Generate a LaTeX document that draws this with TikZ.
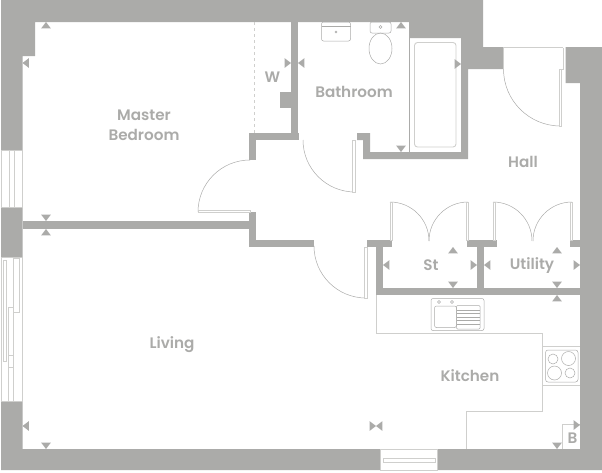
\documentclass[tikz,border=0pt]{standalone}
\usepackage{fontspec}
\setmainfont{Poppins SemiBold}
\definecolor{wallgrey}{HTML}{ABABA9}
\definecolor{palegrey}{HTML}{CFCFCD}
\tikzset{
    wall/.style={fill=wallgrey},
    tick/.style={fill=wallgrey},
    fitting/.style={draw=palegrey,line width=0.9pt},
    thin fitting/.style={draw=wallgrey,line width=0.5pt},
    room/.style={text=wallgrey,font=\fontsize{15.2}{20}\selectfont,inner sep=0pt,align=center}
}

\begin{document}
\begin{tikzpicture}[x=1pt,y=-1pt]
    \useasboundingbox (0,0) rectangle (602,472);
    % outer walls
    \fill[wall] (1,0) -- (483,0) -- (483,47) -- (503,47) -- (503,69) -- (468,69) -- (468,159)
        -- (363,159) -- (363,140) -- (357,140) -- (357,133) -- (370,133) -- (370,152) -- (461,152)
        -- (461,38) -- (409.5,38) -- (409.5,22) -- (35,22) -- (35,56) -- (22.5,56) -- (22.5,449)
        -- (580,449) -- (580,83) -- (565.5,83) -- (565.5,47) -- (602,47) -- (602,470) -- (1,470) -- cycle;
    % inner walls
    \foreach \xa/\ya/\xb/\yb in {291/22/298/133, 280/92/291/108, 249/133/299/140, 249/133/256/160,
        22.5/221/250/229, 249/212/256/247, 249/240/314/247, 367/240/392/247, 376/240/383/295,
        376/288/580/295, 477/240/484/295, 467/240/497/247, 570/240/580/247}
        \fill[wall] (\xa,\ya) rectangle (\xb,\yb);
    % windows
    \foreach \xa/\ya/\xb/\yb in {1/150/22.5/207, 1/257/22.5/401, 380.5/449/437/470}
        \filldraw[fill=white,fitting] (\xa,\ya) rectangle (\xb,\yb);
    \draw[fitting] (9.5,150) rectangle (14,207);
    \draw[fitting] (3.5,260) rectangle (6.5,361);
    \draw[fitting] (13.5,258) rectangle (19.5,312);
    \draw[fitting] (8,307) rectangle (13,401);
    \draw[fitting] (8,355) rectangle (13,367);
    \draw[fitting] (383,458.5) rectangle (435,462.5);
    % doors
    \draw[thin fitting] (250,160) arc[start angle=270,end angle=180,radius=52];
    \filldraw[fill=white,fitting] (198,210) rectangle (250,212.5);
    \draw[thin fitting] (303,140) arc[start angle=180,end angle=90,radius=52];
    \filldraw[fill=white,fitting] (352.5,140) rectangle (355.5,192);
    \draw[thin fitting] (314,246) arc[start angle=180,end angle=90,radius=52];
    \filldraw[fill=white,fitting] (364.5,247) rectangle (367,298);
    \draw[thin fitting] (503.5,69) arc[start angle=180,end angle=90,radius=57];
    \filldraw[fill=white,fitting] (559,69) rectangle (561.5,126);
    \draw[fitting] (503,47.5) -- (563,47.5) (503,47.5) -- (503,69) (563,47.5) -- (563,69) -- (561.5,69);
    % cupboard doors
    \foreach \xl/\xr in {390/468, 493/572} {
        \draw[thin fitting] (\xl,202) arc[start angle=270,end angle=360,radius=39];
        \draw[thin fitting] (\xr,202) arc[start angle=270,end angle=180,radius=39];
        \filldraw[fill=white,fitting] (\xl,202) rectangle (\xl+2,240);
        \filldraw[fill=white,fitting] (\xr-2,202) rectangle (\xr,240);
    }
    % bath
    \draw[thin fitting] (409.5,22) -- (409.5,152);
    \draw[fitting,rounded corners=3pt] (414.5,42.5) rectangle (456,147);
    % basin and toilet
    \draw[thin fitting,rounded corners=2pt] (321.5,22) rectangle (350.5,41);
    \draw[thin fitting] (321.5,26.5) -- (350.5,26.5);
    \draw[thin fitting] (336,32) circle[radius=1];
    \draw[thin fitting,rounded corners=2pt] (370,22) rectangle (391,33);
    \draw[thin fitting] (380.5,27) circle[radius=1.5];
    \draw[thin fitting] (380.5,48.5) ellipse[x radius=11.5,y radius=15.5];
    % kitchen worktop
    \draw[fitting] (376,295) -- (376,333) -- (542,333) -- (542,411) -- (466,411) -- (466,449);
    \draw[fitting] (542,346) -- (580,346) (542,385) -- (580,385);
    \draw[thin fitting,rounded corners=2pt] (431,298.5) rectangle (484,330.5);
    \draw[thin fitting,rounded corners=2pt] (434.5,306) rectangle (456.5,327.5);
    \draw[thin fitting,rounded corners=1pt] (456.5,305.5) rectangle (480,329);
    \foreach \y in {310,313.5,317,320.5,324}
        \draw[thin fitting] (456.5,\y) -- (480,\y);
    \foreach \x in {439,452}
        \draw[thin fitting] (\x,302) circle[radius=1.5];
    \draw[thin fitting,rounded corners=2.5pt] (545.5,350) rectangle (578,382);
    \foreach \x/\y/\r in {553/359/5, 568.5/358.5/7, 554.5/373/7, 570/373/5}
        \draw[thin fitting] (\x,\y) circle[radius=\r];
    \draw[fitting] (580,424) -- (562,424) -- (562,449);
    % wardrobe line
    \draw[palegrey,line width=0.5pt,dashed] (254.5,22) -- (254.5,133);
    % ticks
    \foreach \x/\y in {46/22, 46/229, 401/22, 453/247, 557/247, 557/295}
        \fill[tick] (\x,\y) -- ++(-4.8,6.3) -- ++(9.6,0) -- cycle;
    \foreach \x/\y in {46/221, 46/449, 401/152, 453/288, 557/288, 557/449}
        \fill[tick] (\x,\y) -- ++(-4.8,-6.3) -- ++(9.6,0) -- cycle;
    \foreach \x/\y in {22.5/63, 22.5/426, 298/63, 383/265, 484/265, 376/426}
        \fill[tick] (\x,\y) -- ++(6.3,-4.8) -- ++(0,9.6) -- cycle;
    \foreach \x/\y in {291/63, 461/64, 477/265, 580/265, 580/425, 376/426}
        \fill[tick] (\x,\y) -- ++(-6.3,-4.8) -- ++(0,9.6) -- cycle;
    % rooms
    \node[room] (bedroom) at (144,125.5) {Master\\Bedroom};
    \node[room] (wardrobe) at (272.5,77) {W};
    \node[room] (bathroom) at (354,92) {Bathroom};
    \node[room] (hall) at (523,162) {Hall};
    \node[room] (store) at (431,265) {St};
    \node[room] (utility) at (532,265.5) {Utility};
    \node[room] (kitchen) at (470,376) {Kitchen};
    \node[room] (living) at (172,344.5) {Living};
    \node[room] (boiler) at (572.5,438) {B};
\end{tikzpicture}
\end{document}
